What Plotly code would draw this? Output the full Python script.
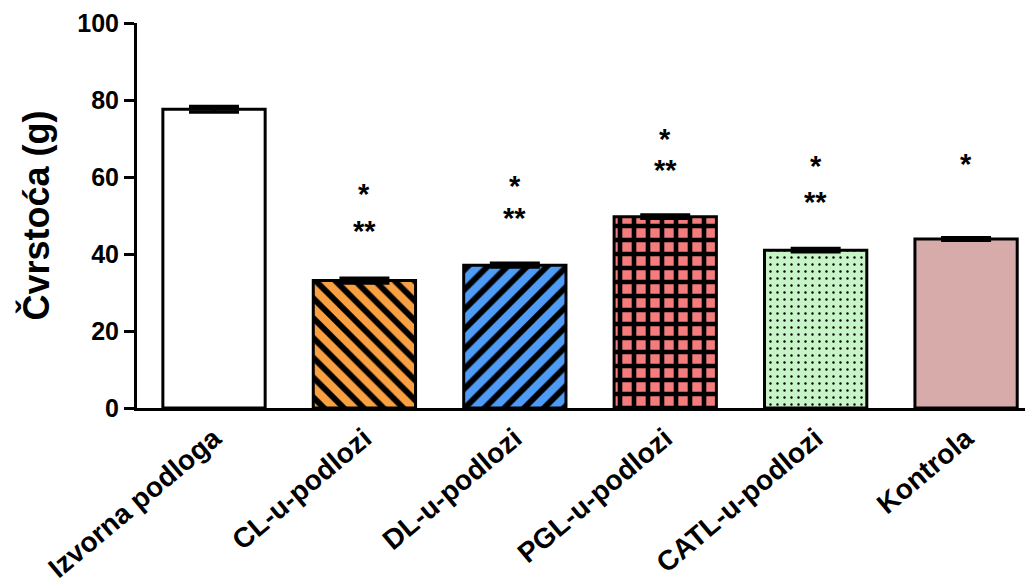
import plotly.graph_objects as go

categories = ["Izvorna podloga", "CL-u-podlozi", "DL-u-podlozi", "PGL-u-podlozi", "CATL-u-podlozi", "Kontrola"]
values = [77.6, 33.1, 37.1, 49.7, 41.0, 43.9]
errors = [0.7, 0.6, 0.5, 0.4, 0.4, 0.3]
fill_colors = ["#FFFFFF", "#F9A043", "#4F9CF7", "#F47C7C", "#C8F5C8", "#D8ABAB"]
patterns = ["", "\\", "/", "+", ".", ""]

# significance marks: y value of single and double asterisks per category
sig_single_y = [None, 55.6, 57.7, 69.9, 62.9, 63.4]
sig_double_y = [None, 46.0, 49.4, 61.8, 53.5, None]

y_ticks = [0, 20, 40, 60, 80, 100]

pattern_size = {"\\": 14, "/": 14, "+": 14, ".": 7, "": 8}
pattern_solid = {"\\": 0.42, "/": 0.42, "+": 0.55, ".": 0.09, "": 0.3}

FONT = "Liberation Sans"

fig = go.Figure()
for i, cat in enumerate(categories):
    shp = patterns[i]
    fig.add_trace(go.Bar(
        x=[cat], y=[values[i]],
        width=0.68,
        marker=dict(
            color=fill_colors[i],
            line=dict(color="black", width=3),
            pattern=dict(shape=shp, fgcolor="black", bgcolor=fill_colors[i],
                         size=pattern_size[shp], solidity=pattern_solid[shp],
                         fillmode="replace"),
        ),
        error_y=dict(type="data", array=[errors[i]], color="black", thickness=3.5, width=25, visible=True),
        showlegend=False,
    ))

annotations = []
for i, cat in enumerate(categories):
    for yv, txt in ((sig_single_y[i], "*"), (sig_double_y[i], "**")):
        if yv is not None:
            annotations.append(dict(x=cat, y=yv, text=txt, showarrow=False,
                                    font=dict(family=FONT, size=29, color="black", weight="bold"),
                                    xanchor="center", yanchor="middle", yshift=0))

fig.update_layout(
    width=1033, height=586,
    margin=dict(l=129, r=8, t=15, b=186),
    plot_bgcolor="white", paper_bgcolor="white",
    font=dict(family=FONT, color="black"),
    annotations=annotations,
)
fig.update_xaxes(
    range=[-0.512, 5.445], automargin=False,
    showline=True, linecolor="black", linewidth=3,
    ticks="", tickangle=-40,
    tickfont=dict(family=FONT, size=28, color="black", weight="bold"),
    showgrid=False, zeroline=False,
)
fig.update_yaxes(
    range=[0, 100], tickvals=y_ticks, automargin=False,
    showline=True, linecolor="black", linewidth=3,
    ticks="outside", ticklen=10, tickwidth=3, tickcolor="black",
    tickfont=dict(family=FONT, size=25, color="black", weight="bold"),
    title=dict(text="Čvrstoća (g)", font=dict(family=FONT, size=36, color="black", weight="bold"), standoff=17),
    showgrid=False, zeroline=False,
)

fig.write_html("out.html")
